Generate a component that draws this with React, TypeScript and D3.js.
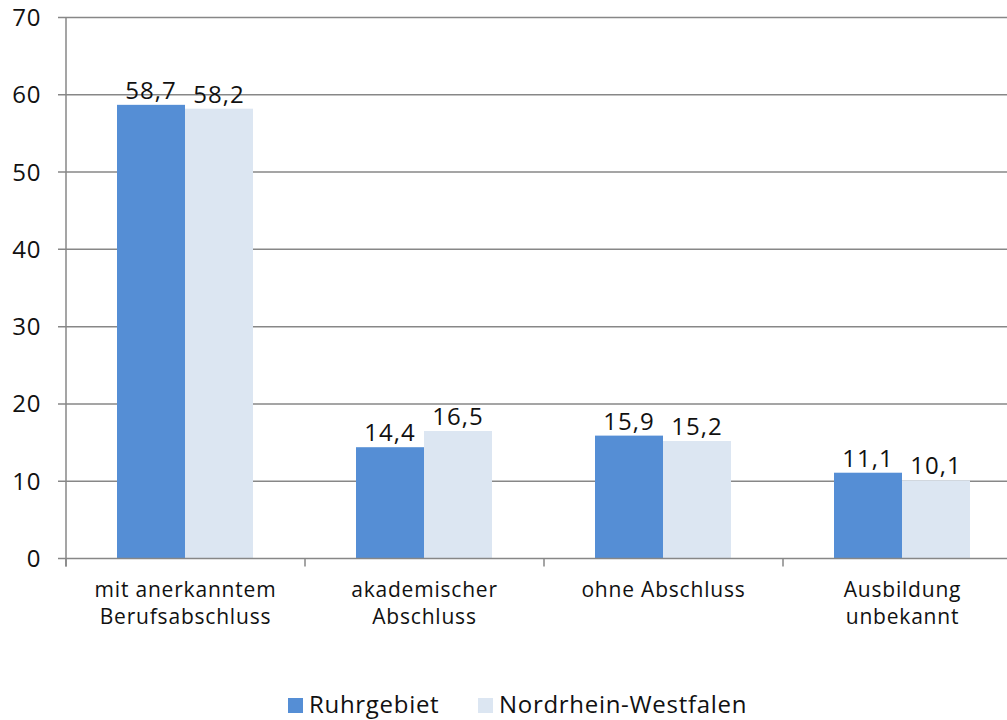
import React, { useEffect, useRef } from 'react';
import * as d3 from 'd3';

const categories = [
  ['mit anerkanntem', 'Berufsabschluss'],
  ['akademischer', 'Abschluss'],
  ['ohne Abschluss'],
  ['Ausbildung', 'unbekannt'],
];
const seriesNames = ['Ruhrgebiet', 'Nordrhein-Westfalen'];
const ruhrValues = [58.7, 14.4, 15.9, 11.1];
const nrwValues = [58.2, 16.5, 15.2, 10.1];
const yTicks = [0, 10, 20, 30, 40, 50, 60, 70];

const colors = ['#558ed5', '#dce6f2'];
const FONT = '"Open Sans", "DejaVu Sans", sans-serif';

const App: React.FC = () => {
  const svgRef = useRef<SVGSVGElement | null>(null);

  useEffect(() => {
    if (!svgRef.current) return;
    const width = 1007;
    const svg = d3.select(svgRef.current);
    svg.selectAll('*').remove();

    const left = 66;
    const bandW = 239;
    const x0 = d3.scaleBand<number>()
      .domain(categories.map((_, i) => i))
      .range([left, left + bandW * categories.length])
      .paddingInner(0)
      .paddingOuter(0);
    const x1 = d3.scaleBand<number>()
      .domain([0, 1])
      .range([51, 51 + 136]);
    const y = d3.scaleLinear().domain([0, 70]).range([558.5, 17.5]);

    // gridlines
    svg.selectAll('line.grid')
      .data(yTicks.filter(t => t > 0))
      .enter()
      .append('line')
      .attr('x1', left - 8)
      .attr('x2', width)
      .attr('y1', d => y(d))
      .attr('y2', d => y(d))
      .attr('stroke', '#878787')
      .attr('stroke-width', 1.5);

    // y tick labels
    svg.selectAll('text.ytick')
      .data(yTicks)
      .enter()
      .append('text')
      .attr('x', 41)
      .attr('y', d => y(d) + 8.5)
      .attr('text-anchor', 'end')
      .attr('font-family', FONT)
      .attr('font-size', 24)
      .attr('letter-spacing', 0.6)
      .attr('fill', '#111')
      .text(d => d);

    // bars
    const series = [ruhrValues, nrwValues];
    series.forEach((vals, s) => {
      svg.selectAll(`rect.s${s}`)
        .data(vals)
        .enter()
        .append('rect')
        .attr('x', (_, i) => (x0(i) || 0) + (x1(s) || 0))
        .attr('y', d => y(d))
        .attr('width', x1.bandwidth())
        .attr('height', d => y(0) - y(d))
        .attr('fill', colors[s]);

      svg.selectAll(`text.v${s}`)
        .data(vals)
        .enter()
        .append('text')
        .attr('x', (_, i) => (x0(i) || 0) + (x1(s) || 0) + x1.bandwidth() / 2)
        .attr('y', d => y(d) - 6)
        .attr('text-anchor', 'middle')
        .attr('font-family', FONT)
        .attr('font-size', 24)
        .attr('letter-spacing', 1)
        .attr('fill', '#111')
        .text(d => d.toFixed(1).replace('.', ','));
    });

    // y axis line
    svg.append('line')
      .attr('x1', left).attr('x2', left)
      .attr('y1', y(70)).attr('y2', y(0) + 8)
      .attr('stroke', '#878787').attr('stroke-width', 1.5);
    // x axis line
    svg.append('line')
      .attr('x1', left - 8).attr('x2', width)
      .attr('y1', y(0)).attr('y2', y(0))
      .attr('stroke', '#878787').attr('stroke-width', 1.5);
    // x ticks
    svg.selectAll('line.xtick')
      .data(categories.map((_, i) => i))
      .enter()
      .append('line')
      .attr('x1', d => x0(d) || 0)
      .attr('x2', d => x0(d) || 0)
      .attr('y1', y(0))
      .attr('y2', y(0) + 8)
      .attr('stroke', '#878787')
      .attr('stroke-width', 1.5);

    // category labels
    categories.forEach((lines, i) => {
      const t = svg.append('text')
        .attr('text-anchor', 'middle')
        .attr('font-family', FONT)
        .attr('font-size', 21)
        .attr('letter-spacing', 0.8)
        .attr('fill', '#111');
      lines.forEach((ln, k) => {
        t.append('tspan')
          .attr('x', (x0(i) || 0) + bandW / 2)
          .attr('y', 597 + k * 27)
          .text(ln);
      });
    });

    // legend
    const legendX = [288, 478];
    seriesNames.forEach((name, s) => {
      svg.append('rect')
        .attr('x', legendX[s])
        .attr('y', 698)
        .attr('width', 15)
        .attr('height', 15)
        .attr('fill', colors[s]);
      svg.append('text')
        .attr('x', legendX[s] + 21)
        .attr('y', 713)
        .attr('font-family', FONT)
        .attr('font-size', 24)
        .attr('letter-spacing', 0.7)
        .attr('fill', '#111')
        .text(name);
    });
  }, []);

  return (
    <div style={{ position: 'fixed', left: 0, top: 0, width: 1007, height: 720, background: '#fff' }}>
      <svg ref={svgRef} width={1007} height={720} style={{ display: 'block' }} />
    </div>
  );
};

export default App;
